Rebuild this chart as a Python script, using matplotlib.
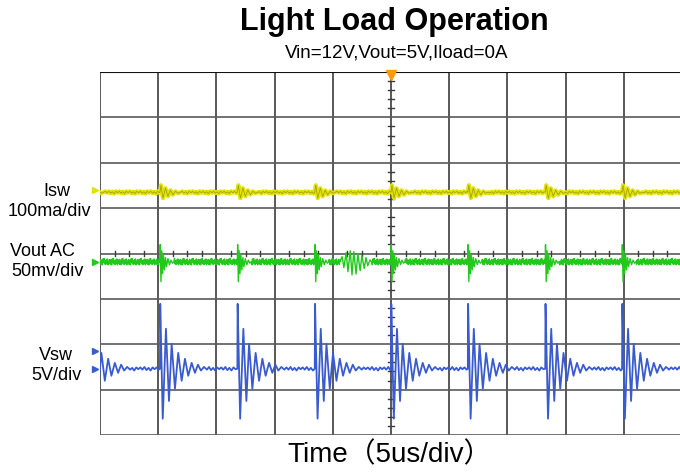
import numpy as np
import matplotlib
matplotlib.use("Agg")
import matplotlib.pyplot as plt

# screen is 10 x 8 divisions, 5 us/div; values below are in divisions
event_times = [-0.29, 1.03, 2.36, 3.69, 5.00, 6.32, 7.65, 8.97]

# Vsw: ringing after each switching edge (time offset, level offset)
vsw_base = -2.54
vsw_tpl_t = [0.0, 0.005, 0.048, 0.103, 0.155, 0.201, 0.258, 0.314, 0.373,
             0.43, 0.486, 0.545, 0.601, 0.653, 0.704, 0.756, 0.808]
vsw_tpl_v = [0.0, 1.43, -1.10, 0.88, -0.71, 0.55, -0.44, 0.35, -0.265,
             0.22, -0.155, 0.13, -0.09, 0.09, -0.04, 0.04, -0.02]
vsw_ripple = [0.03, -0.02, 0.04, -0.03, 0.02, -0.04, 0.03, -0.01]

# Vout AC: narrow spike per edge plus one ringing burst
vout_base = -0.18
vout_tpl_t = [0.0, 0.005, 0.017, 0.031, 0.045, 0.06, 0.077, 0.095, 0.112,
              0.137, 0.163, 0.189, 0.215, 0.24]
vout_tpl_v = [0.0, 0.375, -0.44, 0.24, -0.265, 0.155, -0.18, 0.09, -0.11,
              0.066, -0.066, 0.033, -0.033, 0.0]
burst_t = [4.12, 4.16, 4.19, 4.23, 4.26, 4.30, 4.33, 4.36, 4.40, 4.43, 4.47,
           4.50, 4.54, 4.57, 4.60, 4.64, 4.67]
burst_v = [0.0, 0.11, -0.13, 0.20, -0.22, 0.24, -0.29, 0.22, -0.27, 0.18,
           -0.20, 0.13, -0.15, 0.09, -0.09, 0.04, -0.02]
vout_ripple = [0.05, -0.06, 0.03, -0.07, 0.06, -0.02, 0.07, -0.05,
               0.02, -0.06, 0.04, -0.04, 0.06, -0.07, 0.01, -0.03]

# Isw: small bump per edge
isw_base = 1.35
isw_tpl_t = [0.0, 0.017, 0.052, 0.095, 0.137, 0.18, 0.223, 0.266, 0.309, 0.352]
isw_tpl_v = [0.0, 0.155, -0.13, 0.09, -0.09, 0.044, -0.055, 0.022, -0.022, 0.0]
isw_ripple = [0.02, -0.02, 0.01, -0.03, 0.02, -0.01]

YELLOW = "#e2e20c"
GREEN = "#22c81a"
BLUE = "#3a5bd0"


def build_trace(base, tpl_t, tpl_v, ripple, step, extra=()):
    pieces = [(e + np.asarray(tpl_t), np.asarray(tpl_v)) for e in event_times]
    pieces += [(np.asarray(a), np.asarray(b)) for a, b in extra]
    pieces.sort(key=lambda p: p[0][0])
    ts, vs = [], []
    t, k = -0.4, 0
    for pt, pv in pieces:
        while t < pt[0]:
            ts.append(t)
            vs.append(ripple[k % len(ripple)])
            k += 1
            t += step
        ts.extend(pt)
        vs.extend(pv)
        t = max(t, pt[-1] + step)
    while t <= 10.1:
        ts.append(t)
        vs.append(ripple[k % len(ripple)])
        k += 1
        t += step
    return np.array(ts), base + np.array(vs)


W, H = 680, 474
fig = plt.figure(figsize=(W / 100, H / 100), dpi=100)
ax = fig.add_axes([100 / W, 39 / H, 582 / W, 363 / H])
ax.set_xlim(0, 10)
ax.set_ylim(-4, 4)
ax.axis("off")

# graticule
for x in range(11):
    ax.axvline(x, color="#3c3c3c", lw=1.2, zorder=1)
for y in range(-4, 5):
    ax.axhline(y, color="#5a5a5a", lw=1.2, zorder=1)
ax.axhline(4, color="#111111", lw=1.5, zorder=1)
for k in range(-20, 21):
    if k % 5:
        ax.plot([4.95, 5.05], [k * 0.2] * 2, color="#3c3c3c", lw=1, zorder=1)
for k in range(41):
    if k % 4:
        ax.plot([k * 0.25] * 2, [-0.066, 0.066], color="#3c3c3c", lw=1, zorder=1)

# traces
t, v = build_trace(isw_base, isw_tpl_t, isw_tpl_v, isw_ripple, 0.03)
ax.plot(t, v, color=YELLOW, lw=3, zorder=3)
ax.plot(t, v, color="#6b6b00", lw=0.5, alpha=0.6, zorder=4)

t, v = build_trace(vout_base, vout_tpl_t, vout_tpl_v, vout_ripple, 0.01,
                   extra=[(burst_t, burst_v)])
ax.plot(t, v, color=GREEN, lw=1, zorder=3)

t, v = build_trace(vsw_base, vsw_tpl_t, vsw_tpl_v, vsw_ripple, 0.035)
ax.plot(t, v, color=BLUE, lw=1.3, zorder=3)

# trigger position and channel markers
ax.plot(5, 3.93, marker="v", color="#ff9900", ms=7, clip_on=False, zorder=5)
ax.plot(-0.09, isw_base + 0.05, marker=">", color=YELLOW, ms=5, clip_on=False)
ax.plot(-0.09, vout_base, marker=">", color=GREEN, ms=5, clip_on=False)
ax.plot(-0.09, -2.14, marker=">", color=BLUE, ms=5, clip_on=False)
ax.plot(-0.09, vsw_base, marker=">", color=BLUE, ms=5, clip_on=False)

font = ["Liberation Sans", "DejaVu Sans"]


def label(px, py, s, size, **kw):
    fig.text(px / W, 1 - py / H, s, ha="center", va="center",
             fontsize=size, family=font, **kw)


label(394, 22, "Light Load Operation", 22, fontweight="bold")
label(397, 53, "Vin=12V,Vout=5V,Iload=0A", 13.5)
fig.text(390 / W, 1 - 455 / H, "Time（5us/div）", ha="center", va="center",
         fontsize=20, family=["Liberation Sans", "Noto Sans CJK SC"])

label(57, 191, "Isw", 13)
label(49, 212, "100ma/div", 13)
label(42, 252, "Vout AC", 13)
label(48, 272, "50mv/div", 13)
label(56, 355, "Vsw", 13)
label(56, 376, "5V/div", 13)

fig.savefig("out.png", dpi=100)
